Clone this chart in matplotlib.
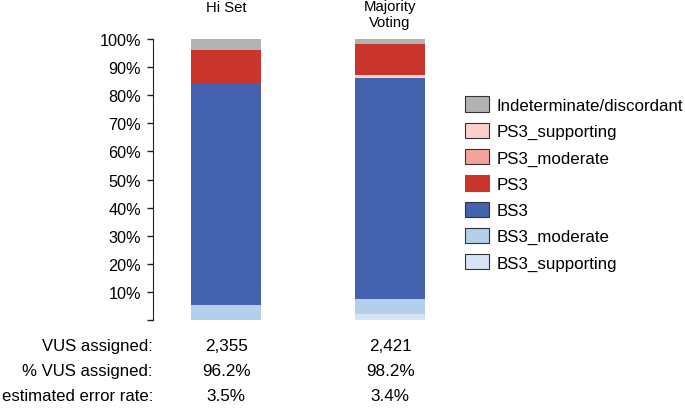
import numpy as np
import matplotlib
matplotlib.use("Agg")
import matplotlib.pyplot as plt
from matplotlib.patches import Patch

plt.rcParams['font.family'] = ['Liberation Sans', 'DejaVu Sans']

groups = ['Hi Set', 'Majority\nVoting']

# stacking order, bottom to top
categories = ['BS3_supporting', 'BS3_moderate', 'BS3', 'PS3_supporting',
              'PS3_moderate', 'PS3', 'Indeterminate/discordant']
colors = ['#d5e3f5', '#b3cfec', '#4562ae', '#fcd0ca', '#f6a29b', '#c9342d', '#b2b2b2']

# percentages per group for each category
values = {
    'BS3_supporting':           [0.0, 2.1],
    'BS3_moderate':             [5.4, 5.3],
    'BS3':                      [78.7, 78.6],
    'PS3_supporting':           [0.0, 1.3],
    'PS3_moderate':             [0.0, 0.0],
    'PS3':                      [12.1, 11.0],
    'Indeterminate/discordant': [3.8, 1.8],
}

legend_order = ['Indeterminate/discordant', 'PS3_supporting', 'PS3_moderate',
                'PS3', 'BS3', 'BS3_moderate', 'BS3_supporting']

row_labels = ['VUS assigned:', '% VUS assigned:', 'estimated error rate:']
row_values = [['2,355', '2,421'], ['96.2%', '98.2%'], ['3.5%', '3.4%']]

fig = plt.figure(figsize=(6.85, 4.14), dpi=100)
ax = fig.add_axes([0.223, 0.2246, 0.49, 0.6788])

x = np.arange(len(groups))
bottom = np.zeros(len(groups))
for cat, col in zip(categories, colors):
    v = np.array(values[cat])
    ax.bar(x, v, bottom=bottom, width=0.43, color=col, edgecolor='none')
    bottom += v

ax.set_ylim(0, 100)
ax.set_xlim(-0.448, 1.6)
ax.set_yticks(np.arange(0, 101, 10))
ax.set_yticklabels([''] + [f'{t}%' for t in range(10, 101, 10)], fontsize=11.7)
ax.tick_params(axis='y', length=4, width=1, pad=4.5, color='#222222')
ax.set_xticks([])
for s in ['top', 'right', 'bottom']:
    ax.spines[s].set_visible(False)
ax.spines['left'].set_color('#222222')

def fig_x(xv):
    return ax.transData.transform((xv, 0))[0] / fig.dpi / fig.get_figwidth()

for i, g in enumerate(groups):
    fig.text(fig_x(x[i]), 1 - 0.5 / 414, g, ha='center', va='top',
             fontsize=10.7, linespacing=1.12)

# rows below the bars
row_y = [347, 372, 397]
for lab, vals, yp in zip(row_labels, row_values, row_y):
    yf = 1 - yp / 414
    fig.text(153 / 685, yf, lab, ha='right', va='center', fontsize=12.1)
    for i, v in enumerate(vals):
        fig.text(fig_x(x[i]), yf, v, ha='center', va='center', fontsize=12.3)

handles = []
for cat in legend_order:
    col = colors[categories.index(cat)]
    ec = col if cat == 'PS3' else '#333333'
    handles.append(Patch(facecolor=col, edgecolor=ec, linewidth=0.8))
fig.legend(handles, legend_order, loc='upper left', bbox_to_anchor=(0.669, 0.781),
           frameon=False, fontsize=12.2, handlelength=1.43, handleheight=1.0,
           handletextpad=0.42, labelspacing=0.58, borderaxespad=0)

fig.savefig('out.png', dpi=100)
